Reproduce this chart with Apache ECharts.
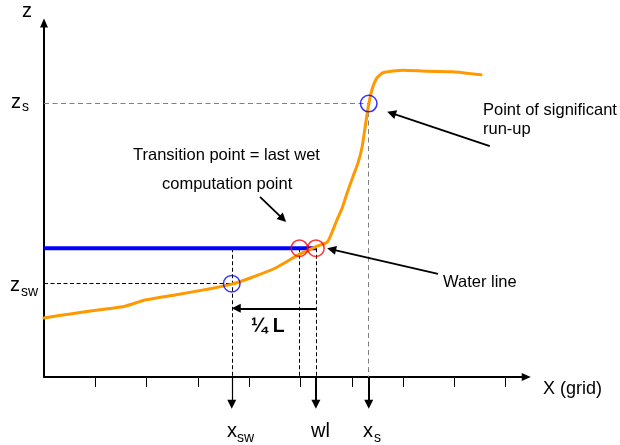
<!DOCTYPE html>
<html>
<head>
<meta charset="utf-8">
<script src="https://cdn.jsdelivr.net/npm/echarts@6/dist/echarts.min.js"></script>
<style>
  html, body { margin: 0; padding: 0; background: #ffffff; }
  #chart { width: 620px; height: 445px; }
</style>
</head>
<body>
<div id="chart"></div>
<script>
// Cross-shore bed profile, in grid cells (x) and bed level (z)
const profileX = [0, 0.51, 1.09, 1.58, 1.97, 2.55, 3.24, 3.66, 4.02, 4.50, 4.99, 5.13, 5.32, 5.52, 5.61,
                  5.71, 5.81, 5.91, 6.02, 6.12, 6.20, 6.26, 6.32, 6.39, 6.49, 6.61, 7.00, 7.47, 7.97, 8.52];
const profileZ = [1.15, 1.23, 1.31, 1.38, 1.50, 1.60, 1.72, 1.81, 1.93, 2.12, 2.40, 2.46, 2.55, 2.63, 2.81,
                  3.06, 3.29, 3.59, 3.90, 4.17, 4.48, 4.87, 5.26, 5.59, 5.83, 5.93, 5.98, 5.96, 5.95, 5.89];

// Still water level and the points picked out on the profile
const waterLevel = [2.51];
const transitionX = [4.98];            // last wet computation point
const waterLineX = [5.30];             // water line
const swashPoint = [3.66, 1.82];       // (x_sw, z_sw)
const runUpPoint = [6.33, 5.33];       // (x_s, z_s)
const quarterLevel = [1.34];           // height of the 1/4 L arrow
const gridTicks = [1, 2, 3, 4, 5, 6, 7, 8, 9];

// Layout
const UNIT = 51.3;                     // pixels per grid cell on both axes
const X_MAX = 9.4, Z_MAX = 6.9;
const DROP = -0.62;                    // how far the x-markers reach below the axis
const HEAD = 9;                        // arrowhead length in px
const FONT = '"Liberation Sans", Arial, Helvetica, sans-serif';

// Pointer arrows from the notes to the profile: [from, tip]
const pointers = [
  [[4.21, 3.51], [4.72, 3.02]],
  [[8.69, 4.50], [6.69, 5.17]],
  [[7.68, 2.01], [5.52, 2.51]]
];

// Arrow symbols are centred on the line end, so pull the end back by half a head
function toTip(from, tip) {
  const dx = tip[0] - from[0], dy = tip[1] - from[1];
  const d = Math.sqrt(dx * dx + dy * dy);
  const k = (HEAD / 2) / UNIT / d;
  return [from, [tip[0] - dx * k, tip[1] - dy * k]];
}

const wl = waterLevel[0];
const xt = transitionX[0];
const xw = waterLineX[0];
const [xsw, zsw] = swashPoint;
const [xs, zs] = runUpPoint;

const chart = echarts.init(document.getElementById('chart'), null, { renderer: 'canvas' });

const gridW = X_MAX * UNIT, gridH = Z_MAX * UNIT;
const gridLeft = 44, gridBottom = 68;

// Text: [text, left, baseline, size, bold]
const notes = [
  ['z', 22, 18, 20],
  ['z', 11, 109, 20], ['s', 22, 112, 14],
  ['z', 10, 292, 20], ['sw', 21, 297, 14],
  ['x', 227, 438, 20], ['sw', 237, 443, 14],
  ['wl', 311, 438, 20],
  ['x', 363, 438, 20], ['s', 374, 443, 14],
  ['X (grid)', 543, 395, 18],
  ['Transition point = last wet', 133, 161, 16.5],
  ['computation point', 162, 190, 16.5],
  ['Point of significant', 483, 116, 16.5],
  ['run-up', 483, 135, 16.5],
  ['Water line', 443, 288, 16.5],
  ['\u00BC L', 251, 333, 19.5, true]
];

const graphic = notes.map(([text, left, base, size, bold]) => ({
  type: 'text',
  x: left,
  y: base - 0.35 * size,
  silent: true,
  style: {
    text: text,
    fontFamily: FONT,
    fontSize: size,
    fontWeight: bold ? 'bold' : 'normal',
    fill: '#000000',
    align: 'left',
    verticalAlign: 'middle'
  }
}));

const arrowSeries = (name, data, width) => ({
  type: 'lines',
  name: name,
  coordinateSystem: 'cartesian2d',
  polyline: false,
  clip: false,
  silent: true,
  symbol: ['none', 'triangle'],
  symbolSize: [8, HEAD],
  lineStyle: { color: '#000000', width: width, opacity: 1, curveness: 0 },
  data: data,
  z: 6
});

chart.setOption({
  animation: false,
  backgroundColor: '#ffffff',
  grid: {
    left: gridLeft,
    top: 445 - gridBottom - gridH,
    width: gridW,
    height: gridH,
    outerBoundsMode: 'none',
    containLabel: false
  },
  xAxis: {
    type: 'value',
    min: 0,
    max: X_MAX,
    interval: 1,
    splitLine: { show: false },
    axisLabel: { show: false },
    axisLine: {
      show: true,
      onZero: false,
      symbol: ['none', 'triangle'],
      symbolSize: [8, HEAD],
      lineStyle: { color: '#000000', width: 2 }
    },
    axisTick: {
      show: true,
      customValues: gridTicks,
      length: 10,
      inside: false,
      lineStyle: { color: '#000000', width: 1 }
    }
  },
  yAxis: {
    type: 'value',
    min: 0,
    max: Z_MAX,
    splitLine: { show: false },
    axisLabel: { show: false },
    axisTick: { show: false },
    axisLine: {
      show: true,
      onZero: false,
      symbol: ['none', 'triangle'],
      symbolSize: [8, HEAD],
      lineStyle: { color: '#000000', width: 2 }
    }
  },
  graphic: graphic,
  series: [
    {
      // guides to the point of significant run-up
      type: 'lines',
      coordinateSystem: 'cartesian2d',
      silent: true,
      clip: false,
      lineStyle: { color: '#808080', width: 1, type: [5, 3.5], opacity: 1 },
      data: [
        { coords: [[0, zs], [xs, zs]] },
        { coords: [[xs, zs], [xs, 0]] }
      ],
      z: 2
    },
    {
      // guides to swash point, transition point and water line
      type: 'lines',
      coordinateSystem: 'cartesian2d',
      silent: true,
      clip: false,
      lineStyle: { color: '#000000', width: 1, type: [4, 2.5], opacity: 1 },
      data: [
        { coords: [[0, zsw], [xsw, zsw]] },
        { coords: [[xsw, wl], [xsw, 0]] },
        { coords: [[xt, wl], [xt, 0]] },
        { coords: [[xw, wl], [xw, 0]] }
      ],
      z: 2
    },
    {
      name: 'Water level',
      type: 'line',
      silent: true,
      symbol: 'none',
      lineStyle: { color: '#0000FF', width: 4 },
      data: [[0, wl], [xw, wl]],
      z: 3
    },
    {
      name: 'Profile',
      type: 'line',
      silent: true,
      symbol: 'none',
      smooth: 0.2,
      lineStyle: { color: '#FF9900', width: 3, join: 'round', cap: 'round' },
      data: profileX.map((x, i) => [x, profileZ[i]]),
      z: 4
    },
    {
      type: 'scatter',
      silent: true,
      symbol: 'circle',
      symbolSize: 16.5,
      itemStyle: { color: 'rgba(0,0,0,0)', borderColor: '#FF0000', borderWidth: 1.5 },
      data: [[xt, wl], [xw, wl]],
      z: 5
    },
    {
      type: 'scatter',
      silent: true,
      symbol: 'circle',
      symbolSize: 16.5,
      itemStyle: { color: 'rgba(0,0,0,0)', borderColor: '#0000FF', borderWidth: 1.5 },
      data: [[xsw, zsw], [xs, zs]],
      z: 5
    },
    arrowSeries('drops', [
      { coords: toTip([xsw, 0], [xsw, DROP]), lineStyle: { width: 1.2 } },
      { coords: toTip([xw, 0], [xw, DROP]), lineStyle: { width: 2 } },
      { coords: toTip([xs, 0], [xs, DROP]), lineStyle: { width: 2 } }
    ], 1.5),
    arrowSeries('quarter', [
      { coords: toTip([xw, quarterLevel[0]], [xsw, quarterLevel[0]]) }
    ], 2),
    arrowSeries('pointers', pointers.map(p => ({ coords: toTip(p[0], p[1]) })), 1.8)
  ]
});
</script>
</body>
</html>
